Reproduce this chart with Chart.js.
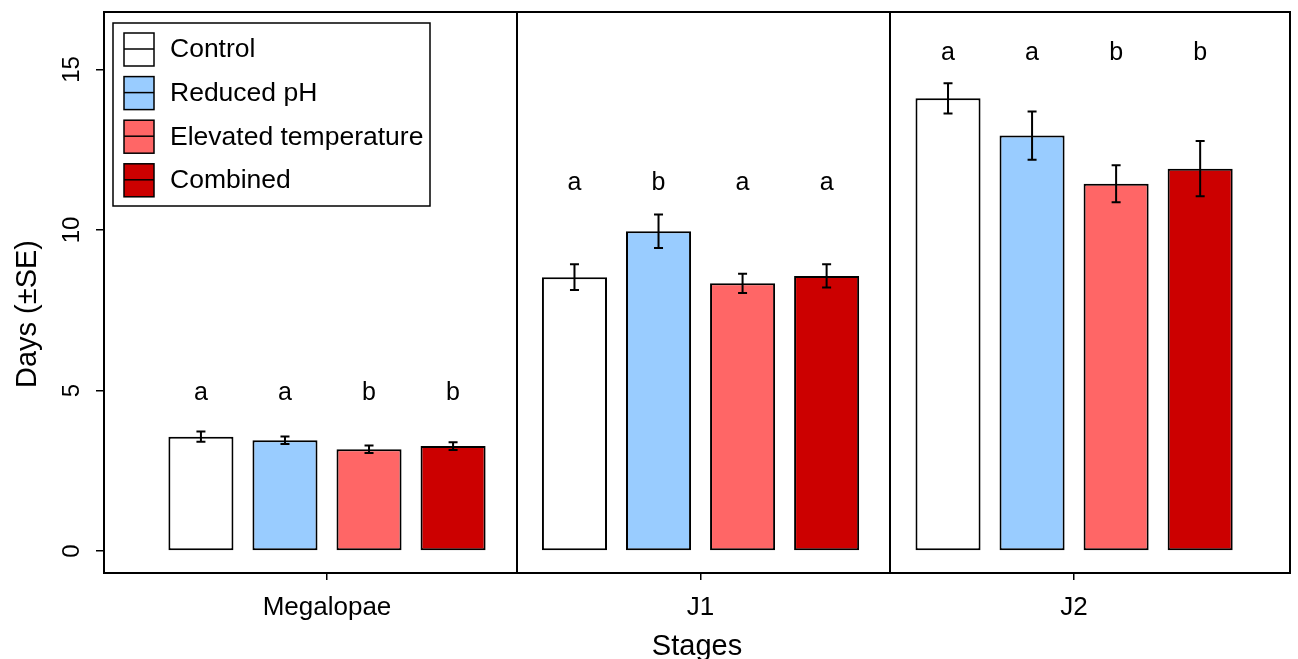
<!DOCTYPE html>
<html>
<head>
<meta charset="utf-8">
<title>Days by stage</title>
<script src="https://cdn.jsdelivr.net/npm/chart.js@4.4.1/dist/chart.umd.min.js"></script>
<style>
  html, body { margin: 0; padding: 0; background: #fff; }
  #wrap { width: 1298px; height: 659px; }
</style>
</head>
<body>
<div id="wrap"><canvas id="chart" width="1298" height="659"></canvas></div>
<script>
// stages on the x axis
const stages = ['Megalopae', 'J1', 'J2'];
const treatments = ['Control', 'Reduced pH', 'Elevated temperature', 'Combined'];

// mean days per stage
const control = [3.56, 8.53, 14.10];
const reducedPH = [3.45, 9.96, 12.94];
const elevatedTemp = [3.17, 8.34, 11.44];
const combined = [3.27, 8.57, 11.91];

// standard errors
const controlSE = [0.16, 0.40, 0.47];
const reducedPHSE = [0.12, 0.52, 0.75];
const elevatedTempSE = [0.12, 0.30, 0.58];
const combinedSE = [0.12, 0.36, 0.86];

// significance letters, one row per stage (Control, Reduced pH, Elevated, Combined)
const lettersByStage = [
  ['a', 'a', 'b', 'b'],
  ['a', 'b', 'a', 'a'],
  ['a', 'a', 'b', 'b'],
];
const letterHeight = [4.92, 11.47, 15.52]; // y value where the letters sit

const yTicks = [0, 5, 10, 15];
const panelBreaks = [0.508, 1.507];

const colors = ['#FFFFFF', '#99CCFF', '#FF6666', '#CC0000'];
const FONT = '"Liberation Sans", Arial, sans-serif';

const means = [control, reducedPH, elevatedTemp, combined];
const errors = [controlSE, reducedPHSE, elevatedTempSE, combinedSE];

const datasets = treatments.map((name, d) => ({
  label: name,
  data: means[d].map((v, i) => ({ x: i, y: v })),
  se: errors[d],
  backgroundColor: colors[d],
  borderColor: '#000',
  borderWidth: 2,
  borderSkipped: false,
  categoryPercentage: 0.9,
  barPercentage: 0.774,
}));

// box, panel lines, error bars, letters, legend, y labels
const decorations = {
  id: 'decorations',
  afterDatasetsDraw(chart) {
    const { ctx, chartArea: a, scales: { x, y } } = chart;
    ctx.save();

    // panel separators
    ctx.strokeStyle = '#000';
    ctx.lineWidth = 2;
    panelBreaks.forEach(b => {
      const px = Math.round(x.getPixelForValue(b));
      ctx.beginPath();
      ctx.moveTo(px, a.top);
      ctx.lineTo(px, a.bottom);
      ctx.stroke();
    });

    // error bars
    ctx.lineWidth = 2;
    chart.data.datasets.forEach((ds, d) => {
      chart.getDatasetMeta(d).data.forEach((bar, i) => {
        const m = ds.data[i].y, se = ds.se[i];
        const top = y.getPixelForValue(m + se);
        const bot = y.getPixelForValue(m - se);
        ctx.beginPath();
        ctx.moveTo(bar.x, top); ctx.lineTo(bar.x, bot);
        ctx.moveTo(bar.x - 4.5, top); ctx.lineTo(bar.x + 4.5, top);
        ctx.moveTo(bar.x - 4.5, bot); ctx.lineTo(bar.x + 4.5, bot);
        ctx.stroke();
      });
    });

    // letters
    ctx.fillStyle = '#000';
    ctx.font = '25px ' + FONT;
    ctx.textAlign = 'center';
    ctx.textBaseline = 'middle';
    chart.data.datasets.forEach((ds, d) => {
      chart.getDatasetMeta(d).data.forEach((bar, i) => {
        ctx.fillText(lettersByStage[i][d], bar.x, y.getPixelForValue(letterHeight[i]));
      });
    });

    // outer box
    ctx.lineWidth = 2;
    ctx.strokeRect(a.left, a.top, a.right - a.left, a.bottom - a.top);

    // legend
    const lx = 113, ly = 23, lw = 317, lh = 183;
    ctx.fillStyle = '#fff';
    ctx.fillRect(lx, ly, lw, lh);
    ctx.lineWidth = 1.5;
    ctx.strokeStyle = '#000';
    ctx.strokeRect(lx, ly, lw, lh);
    ctx.font = '26.5px ' + FONT;
    ctx.textAlign = 'left';
    chart.data.datasets.forEach((ds, d) => {
      const cy = 49 + d * 43.6;
      ctx.fillStyle = ds.backgroundColor;
      ctx.fillRect(124, cy - 16, 30, 33);
      ctx.strokeRect(124, cy - 16, 30, 33);
      ctx.beginPath();
      ctx.moveTo(124, cy); ctx.lineTo(154, cy);
      ctx.stroke();
      ctx.fillStyle = '#000';
      ctx.fillText(ds.label, 170, cy + 1);
    });

    // y tick labels, rotated like R
    ctx.font = '24px ' + FONT;
    ctx.textAlign = 'center';
    y.ticks.forEach(t => {
      ctx.save();
      ctx.translate(72, y.getPixelForValue(t.value));
      ctx.rotate(-Math.PI / 2);
      ctx.fillText(String(t.value), 0, 0);
      ctx.restore();
    });

    // y axis title
    ctx.font = '29px ' + FONT;
    ctx.save();
    ctx.translate(28, 314);
    ctx.rotate(-Math.PI / 2);
    ctx.fillText('Days (\u00B1SE)', 0, 0);
    ctx.restore();

    ctx.restore();
  }
};

new Chart(document.getElementById('chart'), {
  type: 'bar',
  data: { datasets },
  options: {
    responsive: false,
    animation: false,
    layout: { padding: { top: 12, right: 8, left: 0, bottom: 0 } },
    plugins: { legend: { display: false }, tooltip: { enabled: false } },
    scales: {
      x: {
        type: 'linear',
        offset: false,
        min: -0.597,
        max: 2.578,
        afterFit(s) { s.height = 86; },
        afterBuildTicks(s) { s.ticks = stages.map((_, i) => ({ value: i })); },
        grid: { offset: false, drawOnChartArea: false, drawTicks: true, tickLength: 7, color: '#000', lineWidth: 1.5 },
        border: { display: true, color: '#000', width: 2 },
        ticks: {
          padding: 12,
          color: '#000',
          font: { family: FONT, size: 26 },
          callback: v => stages[v],
        },
        title: {
          display: true,
          text: 'Stages',
          color: '#000',
          font: { family: FONT, size: 29, lineHeight: 0.8 },
          padding: 0,
        },
      },
      y: {
        min: -0.685,
        max: 16.79,
        afterFit(s) { s.width = 104; },
        afterBuildTicks(s) { s.ticks = yTicks.map(v => ({ value: v })); },
        grid: { drawOnChartArea: false, drawTicks: true, tickLength: 8, color: '#000', lineWidth: 1.5 },
        border: { display: true, color: '#000', width: 2 },
        ticks: { display: false },
      },
    },
  },
  plugins: [decorations],
});
</script>
</body>
</html>
